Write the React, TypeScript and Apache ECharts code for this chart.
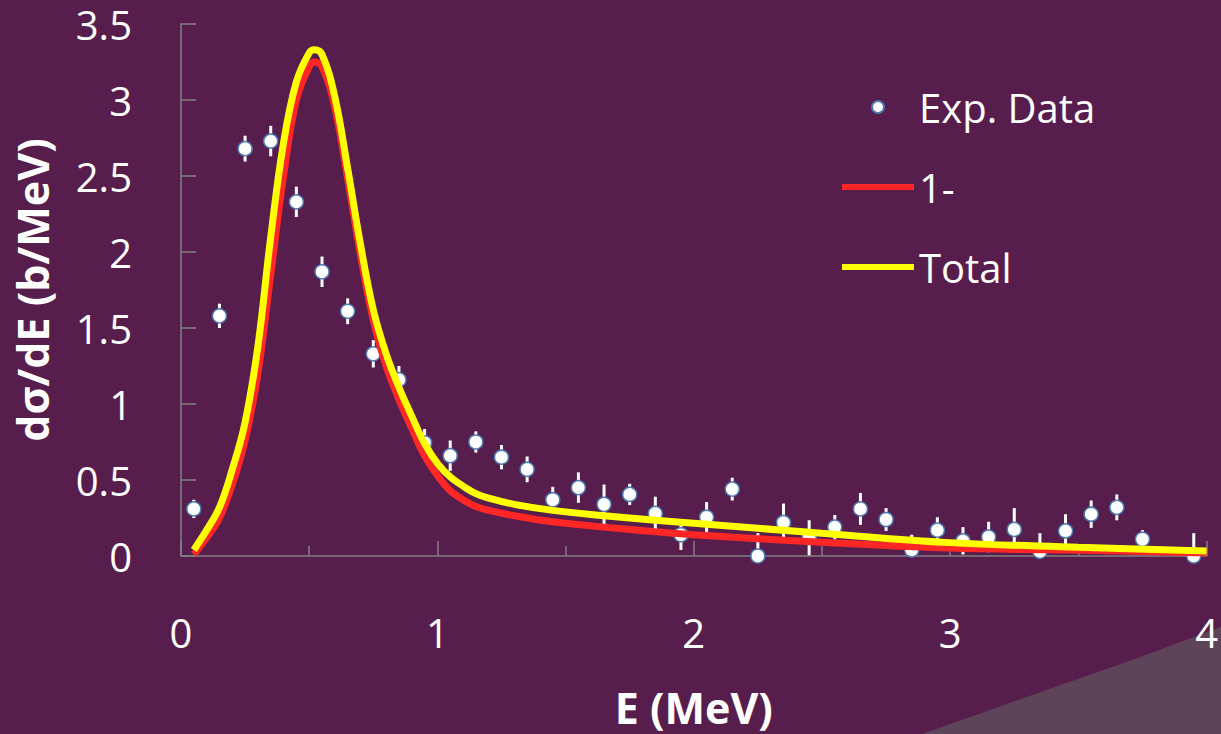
import React, { useEffect, useRef } from 'react';
import * as echarts from 'echarts';

// Experimental data: energy (MeV), dσ/dE (b/MeV), error
const expE = [0.05, 0.15, 0.25, 0.35, 0.45, 0.55, 0.65, 0.75, 0.85, 0.95, 1.05, 1.15, 1.25, 1.35, 1.45, 1.55, 1.65, 1.75, 1.85, 1.95, 2.05, 2.15, 2.25, 2.35, 2.45, 2.55, 2.65, 2.75, 2.85, 2.95, 3.05, 3.15, 3.25, 3.35, 3.45, 3.55, 3.65, 3.75, 3.95];
const expY = [0.31, 1.58, 2.68, 2.73, 2.33, 1.87, 1.61, 1.33, 1.16, 0.745, 0.66, 0.75, 0.65, 0.57, 0.37, 0.45, 0.34, 0.405, 0.28, 0.14, 0.255, 0.44, 0.0, 0.22, 0.12, 0.19, 0.31, 0.24, 0.04, 0.17, 0.10, 0.125, 0.175, 0.03, 0.165, 0.275, 0.32, 0.11, 0.0];
const expErr = [0.06, 0.08, 0.085, 0.1, 0.1, 0.1, 0.085, 0.09, 0.09, 0.09, 0.1, 0.07, 0.08, 0.085, 0.085, 0.1, 0.13, 0.07, 0.11, 0.1, 0.1, 0.075, 0.15, 0.125, 0.115, 0.08, 0.105, 0.075, 0.1, 0.085, 0.09, 0.1, 0.14, 0.12, 0.11, 0.09, 0.085, 0.06, 0.15];

// Calculated curves
const curveE = [0.05, 0.1, 0.15, 0.2, 0.25, 0.3, 0.35, 0.4, 0.45, 0.5, 0.52, 0.55, 0.6, 0.65, 0.7, 0.75, 0.8, 0.85, 0.9, 0.95, 1.0, 1.05, 1.1, 1.15, 1.2, 1.3, 1.45, 1.65, 1.85, 2.0, 2.5, 3.0, 3.5, 4.0];
const oneMinus = [0.01, 0.12, 0.25, 0.47, 0.76, 1.2, 1.85, 2.5, 3.0, 3.22, 3.25, 3.22, 2.95, 2.48, 1.98, 1.55, 1.25, 1.03, 0.84, 0.66, 0.53, 0.43, 0.37, 0.325, 0.3, 0.265, 0.225, 0.19, 0.16, 0.14, 0.09, 0.052, 0.038, 0.02];
const total = [0.04, 0.17, 0.32, 0.57, 0.88, 1.38, 2.1, 2.72, 3.12, 3.31, 3.33, 3.3, 3.02, 2.55, 2.05, 1.62, 1.33, 1.11, 0.92, 0.74, 0.61, 0.52, 0.46, 0.41, 0.38, 0.34, 0.3, 0.265, 0.235, 0.215, 0.15, 0.088, 0.058, 0.033];

const seriesNames = ['Exp. Data', '1-', 'Total'];

const BG = '#571e4d';
const FONT = '"Open Sans", "DejaVu Sans", sans-serif';

export default function App() {
  const ref = useRef<HTMLDivElement>(null);

  useEffect(() => {
    if (!ref.current) return;
    const chart = echarts.init(ref.current, undefined, { renderer: 'svg' });

    const scatterData = expE.map((e, i) => [e, expY[i]]);
    const errData = expE.map((e, i) => [e, expY[i], expErr[i]]);
    const redData = curveE.map((e, i) => [e, oneMinus[i]]);
    const yellowData = curveE.map((e, i) => [e, total[i]]);

    chart.setOption({
      animation: false,
      backgroundColor: BG,
      textStyle: { fontFamily: FONT },
      graphic: [
        {
          type: 'polygon',
          z: -10,
          silent: true,
          shape: {
            points: [
              [922, 734],
              [990, 710],
              [1055, 687],
              [1135, 659],
              [1221, 627],
              [1221, 734],
            ],
          },
          style: { fill: '#5e4459' },
        },
      ],
      grid: { left: 181, right: 13, top: 24, bottom: 173, containLabel: false },
      legend: {
        orient: 'vertical',
        left: 834,
        top: 82,
        itemWidth: 72,
        itemHeight: 12,
        itemGap: 40,
        lineStyle: { width: 6 },
        data: [
          { name: seriesNames[0], icon: 'circle' },
          { name: seriesNames[1], itemStyle: { opacity: 0 } },
          { name: seriesNames[2], itemStyle: { opacity: 0 } },
        ],
        textStyle: { color: '#ffffff', fontSize: 40, fontFamily: FONT, lineHeight: 40 },
      },
      xAxis: {
        type: 'value',
        min: 0,
        max: 4,
        interval: 1,
        name: 'E (MeV)',
        nameLocation: 'middle',
        nameGap: 130,
        nameTextStyle: { color: '#ffffff', fontSize: 43, fontWeight: 'bold', fontFamily: FONT },
        axisLine: { show: true, lineStyle: { color: '#808080', width: 1.5 } },
        axisTick: { show: true, inside: true, length: 15, lineStyle: { color: '#808080', width: 1.5 } },
        minorTick: { show: true, splitNumber: 2, length: 10, lineStyle: { color: '#808080', width: 1.5 } },
        axisLabel: { color: '#ffffff', fontSize: 40, margin: 56, fontFamily: FONT },
        splitLine: { show: false },
        minorSplitLine: { show: false },
      },
      yAxis: {
        type: 'value',
        min: 0,
        max: 3.5,
        interval: 0.5,
        name: 'dσ/dE (b/MeV)',
        nameLocation: 'middle',
        nameGap: 127,
        nameTextStyle: { color: '#ffffff', fontSize: 43, fontWeight: 'bold', fontFamily: FONT },
        axisLine: { show: true, lineStyle: { color: '#808080', width: 1.5 } },
        axisTick: { show: true, inside: true, length: 15, lineStyle: { color: '#808080', width: 1.5 } },
        axisLabel: { color: '#ffffff', fontSize: 40, margin: 49, fontFamily: FONT },
        splitLine: { show: false },
      },
      series: [
        {
          type: 'custom',
          name: 'errbars',
          clip: true,
          z: 1,
          data: errData,
          renderItem: (params: any, api: any) => {
            const x = api.value(0);
            const y = api.value(1);
            const e = api.value(2);
            const p1 = api.coord([x, y + e]);
            const p2 = api.coord([x, y - e]);
            return {
              type: 'line',
              shape: { x1: p1[0], y1: p1[1], x2: p2[0], y2: p2[1] },
              style: { stroke: '#ffffff', lineWidth: 3 },
            };
          },
        },
        {
          type: 'scatter',
          name: 'Exp. Data',
          z: 2,
          symbol: 'circle',
          symbolSize: 14,
          data: scatterData,
          itemStyle: { color: '#ffffff', borderColor: '#4a78b0', borderWidth: 1.5, opacity: 1 },
        },
        {
          type: 'line',
          name: '1-',
          z: 3,
          smooth: 0.4,
          symbol: 'none',
          showSymbol: false,
          data: redData,
          itemStyle: { color: '#ff2626' },
          lineStyle: { color: '#ff2626', width: 7 },
        },
        {
          type: 'line',
          name: 'Total',
          z: 4,
          smooth: 0.4,
          symbol: 'none',
          showSymbol: false,
          data: yellowData,
          itemStyle: { color: '#ffff00' },
          lineStyle: { color: '#ffff00', width: 7 },
        },
      ],
    });

    return () => {
      chart.dispose();
    };
  }, []);

  return (
    <div
      ref={ref}
      style={{ position: 'fixed', left: 0, top: 0, width: 1221, height: 734, background: BG }}
    />
  );
}
